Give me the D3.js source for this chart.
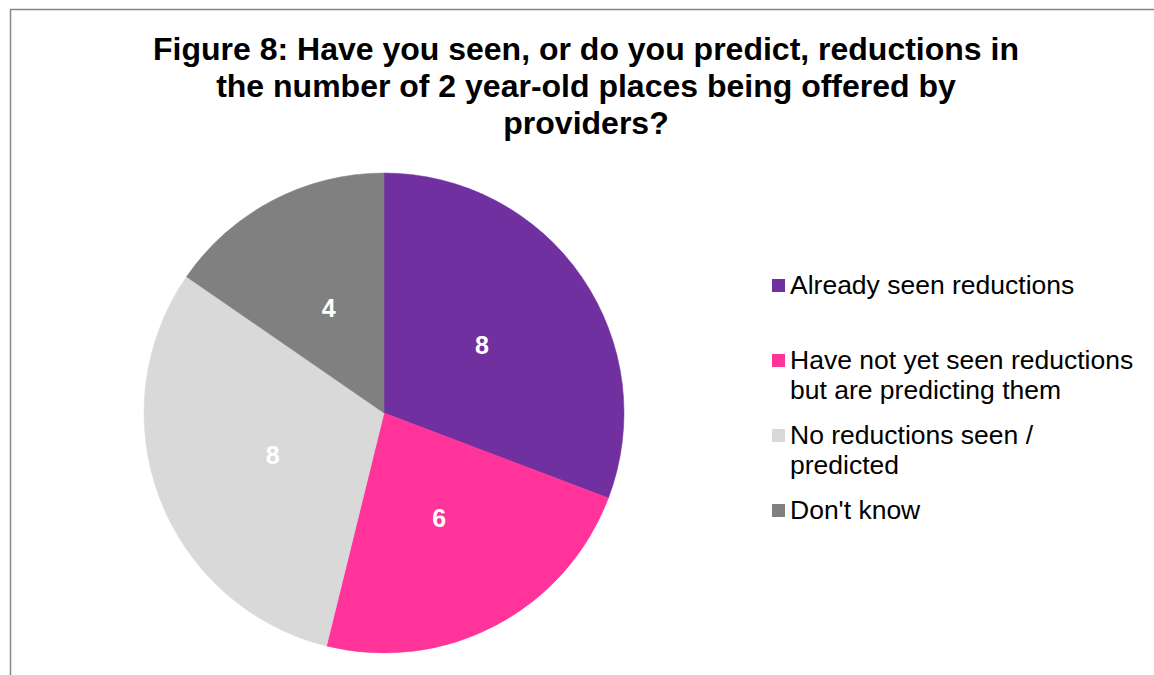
<!DOCTYPE html>
<html>
<head>
<meta charset="utf-8">
<script src="https://cdn.jsdelivr.net/npm/d3@7"></script>
<style>
  html, body { margin: 0; padding: 0; background: #fff; }
  svg { display: block; font-family: "Liberation Sans", Arial, sans-serif; }
</style>
</head>
<body>
<svg id="chart" width="1154" height="675"></svg>
<script>
// Survey responses, in clockwise order from 12 o'clock
const categories = [
  "Already seen reductions",
  "Have not yet seen reductions but are predicting them",
  "No reductions seen / predicted",
  "Don't know"
];
const values = [8, 6, 8, 4];
const colors = ["#7030A0", "#FF3399", "#D9D9D9", "#808080"];
const legendLines = [
  ["Already seen reductions"],
  ["Have not yet seen reductions", "but are predicting them"],
  ["No reductions seen /", "predicted"],
  ["Don't know"]
];
const titleLines = [
  "Figure 8: Have you seen, or do you predict, reductions in",
  "the number of 2 year-old places being offered by",
  "providers?"
];

const svg = d3.select("#chart");

// Chart area frame
svg.append("rect")
  .attr("x", 10.5).attr("y", 9.5)
  .attr("width", 1150).attr("height", 700)
  .attr("fill", "#fff")
  .attr("stroke", "#888").attr("stroke-width", 1.5);

// Title
svg.append("g").selectAll("text")
  .data(titleLines)
  .join("text")
  .attr("x", 586)
  .attr("y", (d, i) => 60 + i * 37)
  .attr("text-anchor", "middle")
  .attr("font-size", 32)
  .attr("font-weight", "bold")
  .attr("fill", "#000")
  .text(d => d);

// Pie
const cx = 384, cy = 413, radius = 240;
const data = categories.map((c, i) => ({ category: c, value: values[i], color: colors[i] }));
const pie = d3.pie().value(d => d.value).sort(null);
const arc = d3.arc().innerRadius(0).outerRadius(radius);
const labelArc = d3.arc().innerRadius(radius * 0.496).outerRadius(radius * 0.496);

const g = svg.append("g").attr("transform", `translate(${cx},${cy})`);
const arcs = pie(data);

g.selectAll("path")
  .data(arcs)
  .join("path")
  .attr("d", arc)
  .attr("fill", d => d.data.color)
  .attr("stroke", d => d.data.color)
  .attr("stroke-width", 0.5);

g.selectAll("text")
  .data(arcs)
  .join("text")
  .attr("transform", d => `translate(${labelArc.centroid(d)})`)
  .attr("text-anchor", "middle")
  .attr("dominant-baseline", "central")
  .attr("font-size", 25)
  .attr("font-weight", "bold")
  .attr("fill", "#fff")
  .text(d => d.data.value);

// Legend
const legendY = [285, 360, 435, 510];
const legend = svg.append("g");
const items = legend.selectAll("g")
  .data(data)
  .join("g")
  .attr("transform", (d, i) => `translate(772,${legendY[i]})`);

items.append("rect")
  .attr("x", 0).attr("y", -6)
  .attr("width", 13).attr("height", 13)
  .attr("fill", d => d.color);

items.selectAll("text")
  .data((d, i) => legendLines[i])
  .join("text")
  .attr("x", 18)
  .attr("y", (d, j) => 9 + j * 30)
  .attr("font-size", 26.5)
  .attr("fill", "#000")
  .text(d => d);
</script>
</body>
</html>
